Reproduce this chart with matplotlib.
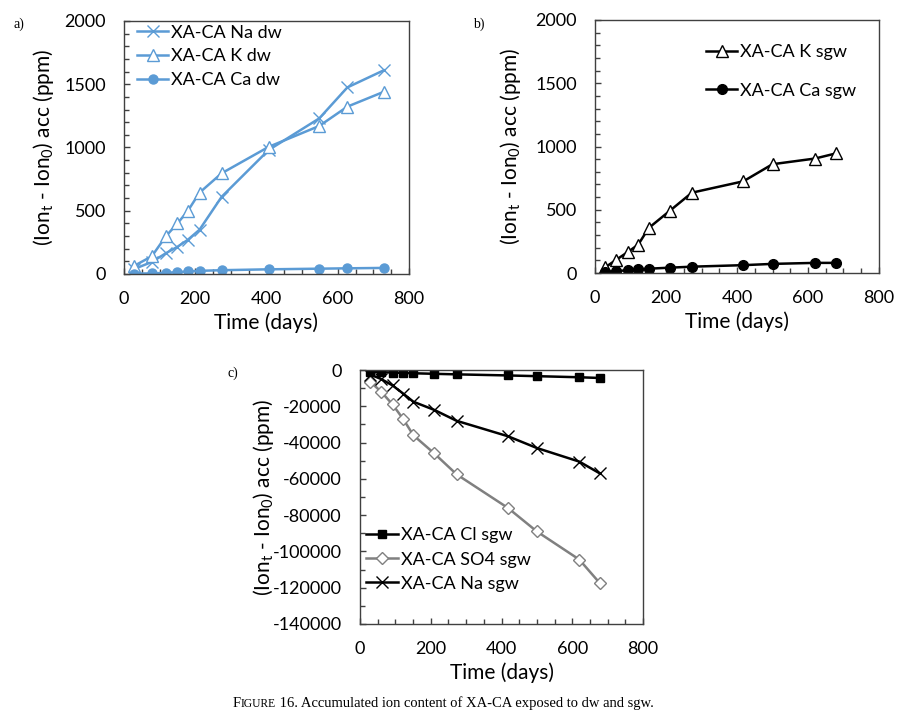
import numpy as np
import matplotlib
matplotlib.use("Agg")
import matplotlib.pyplot as plt
from matplotlib.ticker import MultipleLocator
from matplotlib.offsetbox import TextArea, HPacker, AnnotationBbox

plt.rcParams["font.family"] = ["Lato", "DejaVu Sans"]
plt.rcParams["mathtext.default"] = "regular"
plt.rcParams["axes.unicode_minus"] = False

# ── Données ──────────────────────────────────────────────────
days_dw = [29, 78, 118, 150, 179, 212, 274, 406, 548, 627, 729]
na_dw = [40, 95, 165, 215, 270, 350, 610, 980, 1230, 1475, 1610]
k_dw = [65, 140, 300, 400, 498, 643, 796, 1005, 1170, 1323, 1440]
ca_dw = [3, 5, 9, 15, 20, 25, 30, 37, 42, 45, 48]

days_sgw = [29, 60, 92, 122, 151, 210, 273, 418, 500, 620, 678]
k_sgw = [45, 105, 165, 225, 355, 490, 635, 725, 860, 905, 945]
ca_sgw = [5, 15, 22, 30, 34, 42, 50, 62, 72, 80, 80]

cl_sgw = [-1000, -1200, -1400, -1600, -1800, -2100, -2400, -3000, -3400, -4000, -4400]
so4_sgw = [-6500, -12000, -19000, -27000, -36000, -46000, -57500, -76000, -89000,
           -104500, -117500]
na_sgw = [-2500, -5000, -8500, -13000, -17500, -22000, -28000, -36500, -43000,
          -50500, -57000]

BLUE = "#5b9bd5"
FS = 13       # graduations + légendes
FS_LAB = 15   # titres d'axes
YLAB = r"(Ion$_{t}$ - Ion$_{0}$) acc (ppm)"

W, H = 915, 726
fig = plt.figure(figsize=(W / 100, H / 100), dpi=100)


def make_axes(left, top, right, bottom):
    return fig.add_axes([left / W, 1 - bottom / H, (right - left) / W, (bottom - top) / H])


def style(ax, ylim, ymaj, ymin, ylab_x, legend_anchor, labelspacing):
    ax.set_xlim(0, 800)
    ax.set_ylim(*ylim)
    ax.xaxis.set_major_locator(MultipleLocator(200))
    ax.xaxis.set_minor_locator(MultipleLocator(50))
    ax.yaxis.set_major_locator(MultipleLocator(ymaj))
    ax.yaxis.set_minor_locator(MultipleLocator(ymin))
    ax.tick_params(which="both", direction="in", color="#404040",
                   top=False, right=False, labelsize=FS)
    ax.tick_params(which="major", length=4, width=1)
    ax.tick_params(which="minor", length=3.5, width=1)
    ax.tick_params(axis="y", pad=13)
    ax.tick_params(axis="x", pad=12)
    for sp in ax.spines.values():
        sp.set_color("#404040")
        sp.set_linewidth(1.0)
    ax.set_xlabel("Time (days)", fontsize=FS_LAB)
    ax.xaxis.set_label_coords(0.5, -0.15)
    ax.set_ylabel(YLAB, fontsize=FS_LAB)
    ax.yaxis.set_label_coords(ylab_x, 0.5)
    ax.legend(loc="upper left", bbox_to_anchor=legend_anchor, frameon=False,
              fontsize=FS, handlelength=1.75, handletextpad=0.15,
              labelspacing=labelspacing, borderpad=0, borderaxespad=0)


# ── a) dw ────────────────────────────────────────────────────
ax_a = make_axes(124, 21, 409, 274)
ax_a.plot(days_dw, na_dw, color=BLUE, lw=1.8, marker="x", ms=8, mew=1,
          label="XA-CA Na dw")
ax_a.plot(days_dw, k_dw, color=BLUE, lw=1.8, marker="^", ms=8, mfc="white",
          mec=BLUE, mew=1, label="XA-CA K dw")
ax_a.plot(days_dw, ca_dw, color=BLUE, lw=1.8, marker="o", ms=6.5,
          label="XA-CA Ca dw")
style(ax_a, (0, 2000), 500, 100, -0.24, (0.045, 0.985), 0.42)

# ── b) sgw K/Ca ──────────────────────────────────────────────
ax_b = make_axes(595, 20, 879, 273)
ax_b.plot(days_sgw, k_sgw, color="black", lw=1.8, marker="^", ms=8, mfc="white",
          mec="black", mew=1, label="XA-CA K sgw")
ax_b.plot(days_sgw, ca_sgw, color="black", lw=1.8, marker="o", ms=7,
          label="XA-CA Ca sgw")
style(ax_b, (0, 2000), 500, 100, -0.252, (0.39, 0.905), 1.25)

# ── c) sgw Cl/SO4/Na ─────────────────────────────────────────
ax_c = make_axes(360, 370, 643, 624)
ax_c.plot(days_sgw, cl_sgw, color="black", lw=1.8, marker="s", ms=5.5,
          label="XA-CA Cl sgw")
ax_c.plot(days_sgw, so4_sgw, color="#808080", lw=1.8, marker="D", ms=6,
          mfc="white", mec="#808080", mew=1, label="XA-CA SO4 sgw")
ax_c.plot(days_sgw, na_sgw, color="black", lw=1.8, marker="x", ms=9, mew=1,
          label="XA-CA Na sgw")
style(ax_c, (-140000, 0), 20000, 10000, -0.298, (0.022, 0.38), 0.45)

# ── étiquettes de panneaux + légende de figure ───────────────
for txt, x, y in [("a)", 13, 24), ("b)", 473, 24), ("c)", 228, 373)]:
    fig.text(x / W, 1 - y / H, txt, va="center", ha="left",
             family="Liberation Serif", fontsize=10)

serif = dict(family="Liberation Serif", color="black")
cap = HPacker(children=[
    TextArea("F", textprops=dict(size=10.5, **serif)),
    TextArea("IGURE", textprops=dict(size=8.3, **serif)),
    TextArea(" 16. Accumulated ion content of XA-CA exposed to dw and sgw.",
             textprops=dict(size=10.5, **serif)),
], align="baseline", pad=0, sep=0)
fig.add_artist(AnnotationBbox(cap, (443.5 / W, 1 - 703 / H), xycoords="figure fraction",
                              frameon=False, box_alignment=(0.5, 0.5)))

plt.savefig("out.png", dpi=100)
plt.close()
